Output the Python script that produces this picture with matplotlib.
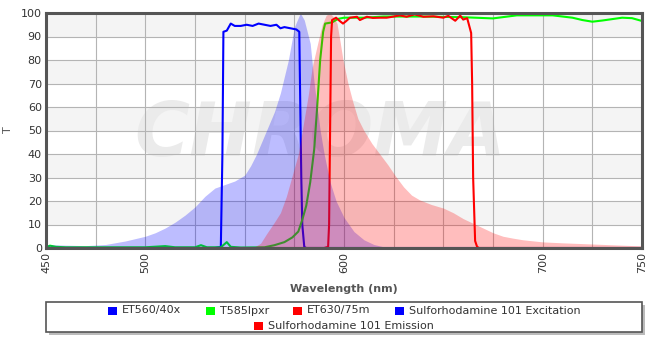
import matplotlib
matplotlib.use("Agg")
import matplotlib.pyplot as plt
from matplotlib.patches import Rectangle

# ET560/40x excitation filter
et560_wl = [450, 535, 538, 538.8, 539.3, 541, 543, 545, 548, 551, 554, 557, 560,
            563, 566, 568, 570, 573, 576, 577.5, 578, 578.5, 579, 580, 581, 750]
et560_t = [0, 0, 0.5, 40, 92, 92.5, 95.5, 94.5, 94.5, 95, 94.5, 95.5, 95,
           94.5, 95, 93.5, 94, 93.5, 93, 92, 60, 30, 10, 0.5, 0, 0]

# T585lpxr dichroic
t585_wl = [450, 452, 455, 460, 500, 510, 515, 525, 528, 531, 538, 541, 543, 548,
           560, 565, 570, 574, 577, 579, 581, 583, 585, 586.5, 588, 589.5, 590.5,
           594, 597, 600, 610, 620, 640, 660, 675, 687, 700, 705, 715, 720, 725,
           730, 740, 745, 750]
t585_t = [0.3, 1, 0.5, 0.3, 0.3, 0.8, 0.3, 0.3, 1.2, 0.3, 0.3, 2.5, 0.5, 0.2,
          0.3, 1.2, 2.5, 4.5, 7, 12, 18, 28, 42, 60, 80, 92, 95.5,
          96, 97.5, 98, 98, 98.5, 98.5, 98.2, 97.7, 99, 99, 99, 98, 97, 96.3,
          96.8, 98, 97.8, 96.6]

# ET630/75m emission filter
et630_wl = [450, 590, 592, 592.5, 593, 593.5, 594, 596, 598, 599.5, 601, 603, 606.5,
            608, 611.5, 614.5, 618, 621.5, 625, 628, 631.5, 635.5, 640, 645, 650,
            652.5, 656, 658.5, 660, 662, 664, 664.5, 665, 666, 667, 668, 750]
et630_t = [0, 0, 0.5, 10, 50, 90, 97, 98, 96.5, 95.5, 96.5, 98, 98.4,
           97, 98.4, 97.9, 98, 98, 98.5, 99, 98.4, 99.4, 98.4, 98.6, 98,
           98.8, 96.7, 98.9, 97.2, 97.8, 91.5, 70, 30, 3, 0.5, 0, 0]

# Sulforhodamine 101 excitation spectrum
sr_ex_wl = [450, 460, 470, 480, 490, 500, 505, 510, 515, 520, 525, 530, 535, 540,
            545, 550, 553, 556, 559, 561, 565, 568, 572, 575, 578, 580, 583, 585,
            588, 590, 593, 596, 600, 605, 610, 615, 620, 625]
sr_ex_t = [1.5, 1.2, 1.0, 1.5, 3, 5, 6.5, 8.5, 11, 14, 17.5, 22, 25.5, 27,
           28.5, 31, 35, 40, 46, 50, 58, 66, 80, 94, 100, 97, 87, 70,
           50, 40, 28, 20, 13, 7, 3.5, 1.5, 0.5, 0]

# Sulforhodamine 101 emission spectrum
sr_em_wl = [550, 555, 558, 561, 565, 568, 571, 574, 577, 579, 582, 584, 587, 589,
            591, 593, 595, 596.5, 598, 599.5, 602, 604.5, 607, 610, 614, 618, 622,
            626, 630, 634, 638, 644, 650, 655, 660, 665, 670, 675, 680, 685, 690,
            700, 710, 725, 740, 750]
sr_em_t = [0, 0.5, 2, 6, 11, 15, 22, 31, 40, 50, 65, 77, 88, 95,
           99, 100, 98, 95.5, 88, 80, 70, 62, 55, 50, 44.5, 40, 35.5,
           30.5, 26, 22.5, 20.5, 18.5, 17, 15, 12.5, 10.5, 8.5, 6.5, 5, 4.2, 3.5,
           2.6, 2.2, 1.7, 1.2, 0.9]

labels = ["ET560/40x", "T585lpxr", "ET630/75m",
          "Sulforhodamine 101 Excitation", "Sulforhodamine 101 Emission"]
colors = ["#0000ff", "#00ff00", "#ff0000", "#0000ff", "#ff0000"]

x_ticks = [450, 500, 600, 700, 750]

W, H = 654, 353
fig = plt.figure(figsize=(W / 100, H / 100), dpi=100)


def fx(px):
    return px / W


def fy(py):
    return 1 - py / H


ax = fig.add_axes([fx(46), fy(248), fx(596), 235 / H])
ax.set_xlim(450, 750)
ax.set_ylim(0, 100)

# alternating bands
for lo in range(10, 100, 20):
    ax.axhspan(lo, lo + 10, color="#f4f4f4", lw=0, zorder=0)

ax.set_xticks(range(450, 751, 25), minor=True)
ax.set_xticks(x_ticks)
ax.set_xticklabels([str(v) for v in x_ticks], rotation=90)
ax.set_yticks(range(0, 101, 10))
ax.grid(True, which="both", color="#b4b4b4", lw=0.8, zorder=0.5)
ax.tick_params(which="both", length=0, labelsize=8, labelcolor="#333333", pad=3)
for s in ax.spines.values():
    s.set_color("#555555")
    s.set_linewidth(2.2)
    s.set_zorder(10)

# faint watermark behind the data
ax.text(0.46, 0.48, "CHROMA", transform=ax.transAxes, fontsize=54,
        fontstyle="italic", fontweight="bold", color="#ebebeb",
        ha="center", va="center", zorder=0.3)

# filter curves
ax.plot(et560_wl, et560_t, color=colors[0], lw=1.5, zorder=2)
ax.plot(t585_wl, t585_t, color=colors[1], lw=1.5, zorder=2)
ax.plot(et630_wl, et630_t, color=colors[2], lw=1.5, zorder=2)

# dye spectra
ax.fill_between(sr_ex_wl, 0, sr_ex_t, color=colors[3], alpha=0.26, lw=0, zorder=3)
ax.fill_between(sr_em_wl, 0, sr_em_t, color=colors[4], alpha=0.26, lw=0, zorder=3)

ax.set_xlabel("Wavelength (nm)", fontsize=8, fontweight="bold", color="#555555",
              labelpad=8)
fig.text(fx(8), fy(130), "T", fontsize=8, rotation=90, color="#555555",
         ha="center", va="center")

# legend box
fig.patches.append(Rectangle((fx(49), fy(335)), fx(596), 30 / H,
                             transform=fig.transFigure, facecolor="#bbbbbb",
                             edgecolor="none", zorder=1))
fig.patches.append(Rectangle((fx(46), fy(332)), fx(596), 30 / H,
                             transform=fig.transFigure, facecolor="white",
                             edgecolor="#555555", lw=1.2, zorder=2))

entries = [(108, 310.5), (206, 310.5), (293, 310.5), (395, 310.5), (254, 326)]
for (sx, sy), lab, col in zip(entries, labels, colors):
    fig.patches.append(Rectangle((fx(sx), fy(sy + 4)), fx(9), 8 / H,
                                 transform=fig.transFigure, facecolor=col,
                                 edgecolor="none", zorder=3))
    fig.text(fx(sx + 14), fy(sy), lab, fontsize=8, color="#333333",
             ha="left", va="center", zorder=4)

fig.savefig("out.png", dpi=100)
